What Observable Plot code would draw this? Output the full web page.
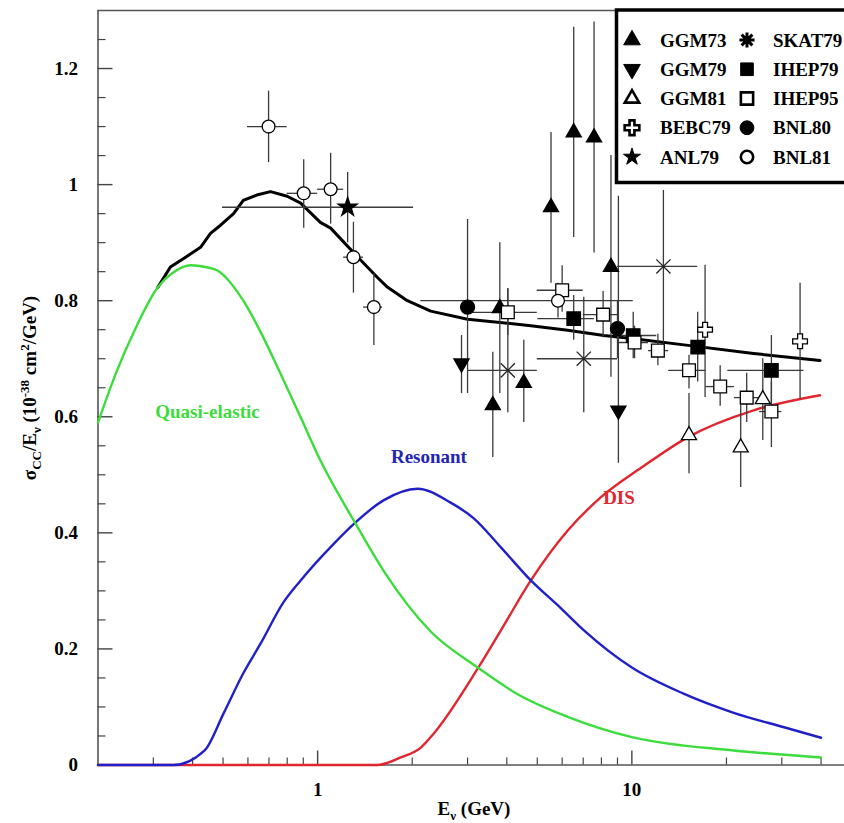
<!DOCTYPE html>
<html><head><meta charset="utf-8">
<script src="https://cdn.jsdelivr.net/npm/d3@7"></script>
<script src="https://cdn.jsdelivr.net/npm/@observablehq/plot@0.6"></script>
<style>
html,body{margin:0;padding:0;background:#fff;overflow:hidden;}
#wrap{position:relative;width:844px;height:823px;overflow:hidden;}
#wrap svg{position:absolute;left:0;top:0;}
</style></head><body><div id="wrap"></div>
<script>
// ---------- curves: [E (GeV), sigma/E] ----------
const totalCurve = [[0.31,0.823],[0.34,0.858],[0.38,0.875],[0.424,0.892],[0.456,0.916],[0.491,0.930],[0.54,0.950],[0.58,0.973],[0.64,0.982],[0.708,0.988],[0.80,0.980],[0.883,0.968],[1.02,0.935],[1.10,0.925],[1.37,0.870],[1.55,0.84],[1.67,0.823],[1.93,0.800],[2.29,0.782],[3.0,0.768],[4.77,0.757],[6.25,0.749],[8.15,0.740],[10,0.735],[15.1,0.723],[24.4,0.709],[39.7,0.697]];
const qeCurve = [[0.2,0.59],[0.23,0.68],[0.259,0.744],[0.31,0.823],[0.35,0.85],[0.394,0.861],[0.44,0.858],[0.48,0.852],[0.58,0.80],[0.66,0.745],[0.746,0.685],[0.883,0.599],[1.02,0.525],[1.32,0.416],[1.62,0.335],[2.29,0.230],[3.23,0.168],[4.33,0.122],[6.25,0.083],[10,0.048],[21.1,0.025],[40,0.013]];
const resCurve = [[0.2,0],[0.348,0],[0.437,0.025],[0.502,0.089],[0.58,0.158],[0.658,0.209],[0.78,0.281],[0.883,0.318],[1.125,0.381],[1.32,0.418],[1.62,0.456],[2.08,0.476],[2.65,0.452],[3.14,0.425],[3.83,0.375],[4.77,0.318],[5.95,0.270],[7.04,0.232],[10,0.168],[14.6,0.123],[21.1,0.090],[30.5,0.065],[40,0.047]];
const disCurve = [[0.2,0],[1.55,0],[1.84,0.013],[2.13,0.030],[2.34,0.054],[3.23,0.166],[3.83,0.232],[4.77,0.318],[6.25,0.404],[7.96,0.461],[10.7,0.512],[15.1,0.565],[24.4,0.611],[39.7,0.637]];

// ---------- data points: [E, sigma/E, sigmaLow, sigmaHigh, Elow, Ehigh] ----------
const GGM73 = [[3.61,0.620,0.530,0.711],[3.80,0.787,0.640,0.900],[4.53,0.658,0.590,0.732],[5.53,0.961,0.830,1.090],[6.53,1.090,0.909,1.271],[7.58,1.081,0.882,1.280],[8.58,0.858,0.668,1.050]];
const GGM79 = [[2.87,0.692,0.640,0.740],[9.06,0.611,0.520,0.980]];
const GGM81 = [[15.2,0.568,0.502,0.640],[22.2,0.547,0.478,0.620],[26.1,0.630,0.559,0.700]];
const BEBC79 = [[17.1,0.750,0.633,0.861],[34.3,0.730,0.630,0.830]];
const ANL79 = [[1.246,0.961,0.900,1.021,0.498,2.02]];
const SKAT79 = [[4.03,0.680,0.607,0.821,3.0,5.0],[7.03,0.700,0.607,0.806,5.0,9.0],[12.6,0.859,0.727,0.99,9.0,16.2]];
const IHEP79 = [[6.53,0.769,0.732,0.809,5.02,7.6],[10.1,0.740,0.700,0.780,9.0,12.0],[16.2,0.720,0.660,0.780],[27.8,0.680,0.620,0.740,20.2,35.3]];
const IHEP95 = [[4.03,0.780,0.740,0.820,3.0,5.0],[6.0,0.818,0.780,0.860,5.0,7.0],[8.1,0.776,0.736,0.816,7.0,9.0],[10.2,0.728,0.700,0.756,9.0,11.3],[12.1,0.714,0.688,0.742,11.3,13.1],[15.2,0.680,0.648,0.706,13.1,17.2],[19.1,0.652,0.618,0.688,17.2,21.2],[23.2,0.633,0.590,0.675,21.2,25.5],[27.8,0.609,0.547,0.660,25.5,30.0]];
const BNL80 = [[3.0,0.789,0.640,0.940],[9.0,0.752,0.700,0.800]];
const BNL81 = [[0.698,1.100,1.038,1.161,0.598,0.80],[0.903,0.985,0.925,1.043,0.80,1.0],[1.10,0.992,0.932,1.054,1.0,1.21],[1.30,0.875,0.813,0.935,1.21,1.40],[1.51,0.789,0.723,0.847,1.40,1.61],[5.82,0.800,0.770,0.830,2.13,10.1]];

// ---------- ticks / labels ----------
const xMajor = [1, 10];
const xMinor = [0.3,0.4,0.5,0.6,0.7,0.8,0.9,2,3,4,5,6,7,8,9,20,30,40];
const yMajor = [0,0.2,0.4,0.6,0.8,1,1.2];
const yMinor = [0.05,0.1,0.15,0.25,0.3,0.35,0.45,0.5,0.55,0.65,0.7,0.75,0.85,0.9,0.95,1.05,1.1,1.15,1.25];
const curveLabels = [
  {text:"Quasi-elastic", E:0.446, s:0.608, color:"#3cdc3c"},
  {text:"Resonant", E:2.26, s:0.530, color:"#2424b4"},
  {text:"DIS", E:9.1, s:0.461, color:"#e0262e"}
];
const legendNames = ["GGM73","GGM79","GGM81","BEBC79","ANL79","SKAT79","IHEP79","IHEP95","BNL80","BNL81"];

// ---------- layout ----------
const W = 844, H = 823, mL = 97.5, mT = 10, mB = 58.5, mR = 0;
const frameW = W - mL - mR, frameH = H - mT - mB;
const FONT = "Liberation Serif, Times New Roman, serif";

const triDown = {draw(ctx, size){const y = -Math.sqrt(size/(Math.sqrt(3)*3)); ctx.moveTo(0,-2*y); ctx.lineTo(-Math.sqrt(3)*y, y); ctx.lineTo(Math.sqrt(3)*y, y); ctx.closePath();}};

const sets = [
  {d:GGM73, symbol:"triangle", r:5.6, fill:"black", stroke:"black"},
  {d:GGM79, symbol:triDown, r:5.6, fill:"black", stroke:"black"},
  {d:GGM81, symbol:"triangle", r:5.6, fill:"white", stroke:"black"},
  {d:BEBC79, symbol:"cross", r:6.2, fill:"white", stroke:"black"},
  {d:ANL79, symbol:"star", r:6, fill:"black", stroke:"black"},
  {d:SKAT79, symbol:"times", r:6.5, fill:"none", stroke:"#222"},
  {d:IHEP79, symbol:"square", r:7.6, fill:"black", stroke:"black"},
  {d:IHEP95, symbol:"square", r:7.2, fill:"white", stroke:"black"},
  {d:BNL80, symbol:"circle", r:7, fill:"black", stroke:"black"},
  {d:BNL81, symbol:"circle", r:6.4, fill:"white", stroke:"black"}
];
const allPts = sets.flatMap(s => s.d);

const errColor = "#3a3a3a";
const marks = [
  // frame (left, bottom, top)
  Plot.ruleX([0.2], {stroke:"#555", strokeWidth:1.6}),
  Plot.ruleY([0], {stroke:"#555", strokeWidth:1.6}),
  Plot.ruleY([1.3], {stroke:"#555", strokeWidth:1.6}),
  // ticks (inward)
  Plot.tickY(yMajor, {y:d=>d, insetRight: frameW-15, stroke:"#444", strokeWidth:1.4}),
  Plot.tickY(yMinor, {y:d=>d, insetRight: frameW-8, stroke:"#444", strokeWidth:1.2}),
  Plot.tickX(xMajor, {x:d=>d, insetTop: frameH-14, stroke:"#444", strokeWidth:1.4}),
  Plot.tickX(xMinor, {x:d=>d, insetTop: frameH-7, stroke:"#444", strokeWidth:1.2}),
  Plot.axisY(yMajor, {tickSize:0, tickPadding:20, tickFormat:d=>String(d), label:null, fontSize:19, fontWeight:"bold", fontFamily:FONT, fill:"#000"}),
  Plot.axisX(xMajor, {tickSize:0, tickPadding:17, tickFormat:d=>String(d), label:null, fontSize:19, fontWeight:"bold", fontFamily:FONT, fill:"#000"}),
  // model curves
  Plot.line(disCurve, {x:d=>d[0], y:d=>d[1], stroke:"#e0262e", strokeWidth:2.4, curve:"monotone-x"}),
  Plot.line(resCurve, {x:d=>d[0], y:d=>d[1], stroke:"#2020c8", strokeWidth:2.4, curve:"monotone-x"}),
  Plot.line(totalCurve, {x:d=>d[0], y:d=>d[1], stroke:"#000", strokeWidth:3, curve:"linear"}),
  Plot.line(qeCurve, {x:d=>d[0], y:d=>d[1], stroke:"#3cdc3c", strokeWidth:2.4, curve:"monotone-x"}),
  // error bars
  Plot.ruleX(allPts, {x:d=>d[0], y1:d=>d[2], y2:d=>d[3], stroke:errColor, strokeWidth:1.3}),
  Plot.ruleY(allPts.filter(d=>d.length>4), {y:d=>d[1], x1:d=>d[4], x2:d=>d[5], stroke:errColor, strokeWidth:1.3}),
  // symbols
  ...sets.map(s => Plot.dot(s.d, {x:d=>d[0], y:d=>d[1], symbol:s.symbol, r:s.r, fill:s.fill, stroke:s.stroke, strokeWidth:1.3})),
  // curve labels
  Plot.text(curveLabels, {x:"E", y:"s", text:"text", fill:"color", fontSize:19, fontWeight:"bold", fontFamily:FONT})
];

const plot = Plot.plot({
  width: W, height: H, marginLeft: mL, marginRight: mR, marginTop: mT, marginBottom: mB,
  x: {type:"log", domain:[0.2, 50], range:[mL, 851]},
  y: {domain:[0, 1.3]},
  style: {fontFamily: FONT, fontSize:"19px", background:"white", overflow:"hidden"},
  marks
});
document.getElementById("wrap").appendChild(plot);

// axis titles with sub/superscripts
const svg = d3.select(plot);
const yt = svg.append("text").attr("transform","translate(36,388) rotate(-90)").attr("text-anchor","middle")
  .style("font-family",FONT).style("font-weight","bold").style("font-size","19px").attr("fill","#000");
const parts = [["σ",0,19],["CC",5,13],["/E",-5,19],["ν",5,13],[" (10",-5,19],["-38",-7,13],[" cm",7,19],["2",-7,13],["/GeV)",7,19]];
parts.forEach(([t,dy,fs])=>yt.append("tspan").attr("dy",dy).style("font-size",fs+"px").text(t));
const xt = svg.append("text").attr("x",474).attr("y",815).attr("text-anchor","middle")
  .style("font-family",FONT).style("font-weight","bold").style("font-size","19px").attr("fill","#000");
[["E",0,19],["ν",5,13],[" (GeV)",-5,19]].forEach(([t,dy,fs])=>xt.append("tspan").attr("dy",dy).style("font-size",fs+"px").text(t));

// legend
const lg = d3.select("#wrap").append("svg").attr("width",W).attr("height",H).style("pointer-events","none");
lg.append("rect").attr("x",616.5).attr("y",10).attr("width",240).attr("height",172.5).attr("fill","white").attr("stroke","#000").attr("stroke-width",3.5);
const asterisk8 = {draw(ctx,size){const r=Math.sqrt(size)/2; for(let k=0;k<4;k++){const a=k*Math.PI/4; ctx.moveTo(-r*Math.cos(a),-r*Math.sin(a)); ctx.lineTo(r*Math.cos(a), r*Math.sin(a));}}};
const legSym = [
  {t:d3.symbolTriangle, size:120, fill:"#000", stroke:"#000", sw:1},
  {t:triDown, size:120, fill:"#000", stroke:"#000", sw:1},
  {t:d3.symbolTriangle, size:90, fill:"#fff", stroke:"#000", sw:2.6},
  {t:d3.symbolCross, size:120, fill:"#fff", stroke:"#000", sw:2.6},
  {t:d3.symbolStar, size:90, fill:"#000", stroke:"#000", sw:1},
  {t:asterisk8, size:230, fill:"none", stroke:"#000", sw:3},
  {t:d3.symbolSquare, size:160, fill:"#000", stroke:"#000", sw:1},
  {t:d3.symbolSquare, size:150, fill:"#fff", stroke:"#000", sw:2.6},
  {t:d3.symbolCircle, size:150, fill:"#000", stroke:"#000", sw:1},
  {t:d3.symbolCircle, size:120, fill:"#fff", stroke:"#000", sw:2.6}
];
legendNames.forEach((name,i)=>{
  const col = i<5?0:1, row = i%5;
  const cy = 40 + row*29.25;
  const sx = col===0?632:747, tx = col===0?660:773;
  const s = legSym[i];
  lg.append("path").attr("d", d3.symbol(s.t, s.size)()).attr("transform",`translate(${sx},${cy})`)
    .attr("fill",s.fill).attr("stroke",s.stroke).attr("stroke-width",s.sw);
  lg.append("text").attr("x",tx).attr("y",cy+6.5).text(name)
    .style("font-family",FONT).style("font-weight","bold").style("font-size","19px").attr("fill","#000");
});
</script>
</body></html>
